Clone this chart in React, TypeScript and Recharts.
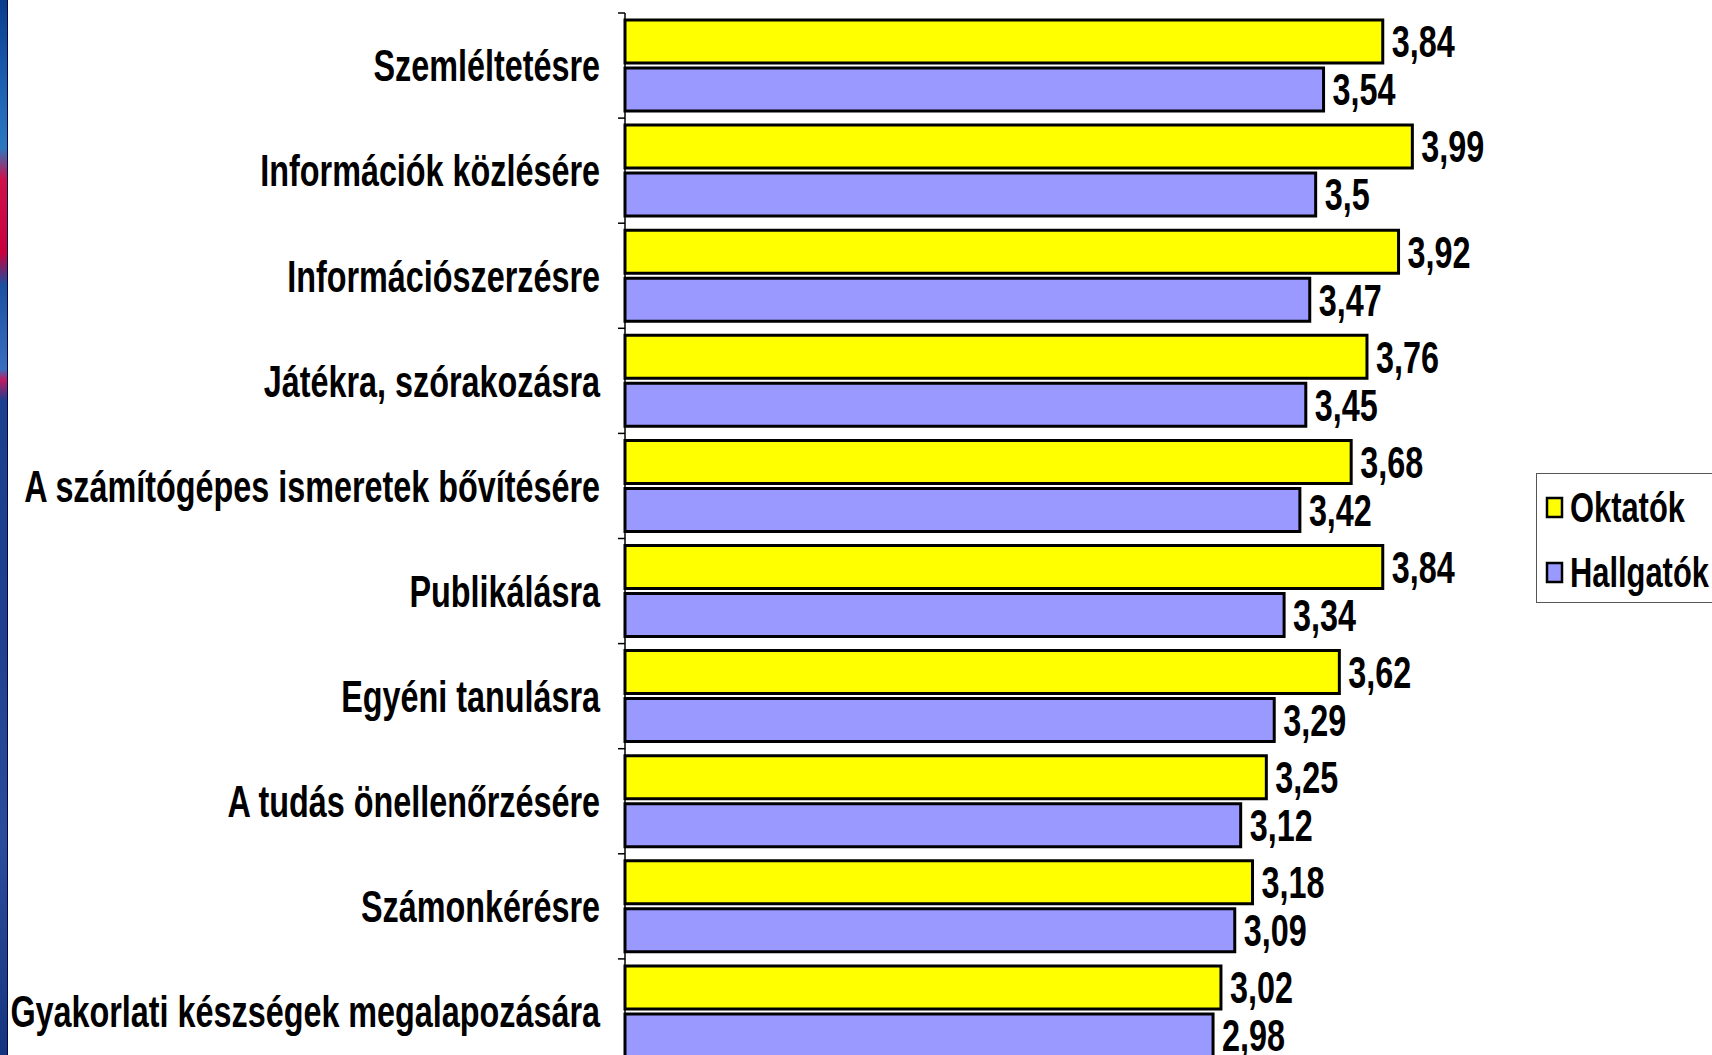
import React from 'react';
import { BarChart, Bar, XAxis, YAxis, LabelList, Legend } from 'recharts';

const categories: string[] = [
  'Szemléltetésre',
  'Információk közlésére',
  'Információszerzésre',
  'Játékra, szórakozásra',
  'A számítógépes ismeretek bővítésére',
  'Publikálásra',
  'Egyéni tanulásra',
  'A tudás önellenőrzésére',
  'Számonkérésre',
  'Gyakorlati készségek megalapozására',
];
const oktatok: number[] = [3.84, 3.99, 3.92, 3.76, 3.68, 3.84, 3.62, 3.25, 3.18, 3.02];
const hallgatok: number[] = [3.54, 3.5, 3.47, 3.45, 3.42, 3.34, 3.29, 3.12, 3.09, 2.98];
const seriesNames: string[] = ['Oktatók', 'Hallgatók'];
const seriesColors: string[] = ['#FFFF00', '#9999FF'];

const data = categories.map((c, i) => ({ name: c, oktatok: oktatok[i], hallgatok: hallgatok[i] }));

const FONT = '"Liberation Sans", Arial, sans-serif';
const SX = 0.735;

const CatTick = (props: any) => {
  const { x, y, payload } = props;
  const off = payload && typeof payload.offset === 'number' ? payload.offset : 0;
  const top = y - off;
  return (
    <g>
      <line x1={x + 18} x2={x + 25} y1={top} y2={top} stroke="#000" strokeWidth={1.5} />
      <text
        transform={`translate(${x},${y}) scale(${SX},1)`}
        textAnchor="end"
        dy="0.36em"
        fontFamily={FONT}
        fontWeight="bold"
        fontSize={44}
        fill="#000"
      >
        {payload.value}
      </text>
    </g>
  );
};

const ValueLabel = (props: any) => {
  const { x, y, width, height, value } = props;
  const tx = Number(x) + Number(width) + 9;
  const ty = Number(y) + Number(height) / 2;
  return (
    <text
      transform={`translate(${tx},${ty}) scale(${SX},1)`}
      textAnchor="start"
      dy="0.36em"
      fontFamily={FONT}
      fontWeight="bold"
      fontSize={44}
      fill="#000"
    >
      {String(value).replace('.', ',')}
    </text>
  );
};

const LegendBox = () => (
  <div
    style={{
      width: 190,
      height: 130,
      border: '1px solid #555',
      background: '#fff',
      boxSizing: 'border-box',
    }}
  >
    <svg width={190} height={128} style={{ display: 'block' }}>
      {seriesNames.map((n, i) => (
        <g key={n}>
          <rect x={10} y={24 + i * 65} width={15} height={19} fill={seriesColors[i]} stroke="#000" strokeWidth={2.5} />
          <text
            transform={`translate(${33},${33 + i * 65}) scale(${SX},1)`}
            dy="0.36em"
            fontFamily={FONT}
            fontWeight="bold"
            fontSize={42}
            fill="#000"
          >
            {n}
          </text>
        </g>
      ))}
    </svg>
  </div>
);

export default function App() {
  return (
    <div
      style={{
        position: 'absolute',
        left: 0,
        top: 0,
        width: 1712,
        height: 1055,
        overflow: 'hidden',
        background: '#fff',
      }}
    >
      <div
        style={{
          position: 'absolute',
          left: 0,
          top: 0,
          width: 7,
          height: 1055,
          background:
            'linear-gradient(to bottom, #0b3c8c 0%, #1d5fb0 8%, #2a78c0 14%, #d0104a 17%, #c8003c 24%, #1b4fa0 27%, #3a6fc0 35%, #c01a60 36%, #1b3f90 38%, #20408f 60%, #2b4c9c 80%, #163580 100%)',
          borderRight: '1px solid #000a3a',
        }}
      />
      <BarChart
        width={1712}
        height={1075}
        data={data}
        layout="vertical"
        margin={{ top: 13, right: 199, bottom: 11, left: 0 }}
        barCategoryGap={7}
        barGap={5}
      >
        <XAxis type="number" domain={[0, 4.5]} hide />
        <YAxis
          type="category"
          dataKey="name"
          width={625}
          axisLine={{ stroke: '#000', strokeWidth: 1.5 }}
          tickLine={false}
          tickSize={0}
          tickMargin={25}
          interval={0}
          tick={<CatTick />}
        />
        <Legend
          layout="horizontal"
          verticalAlign="middle"
          align="center"
          content={<LegendBox />}
          wrapperStyle={{ position: 'absolute', left: 1536, top: 473, width: 190, height: 130 }}
        />
        <Bar dataKey="oktatok" name={seriesNames[0]} fill={seriesColors[0]} stroke="#000" strokeWidth={3} isAnimationActive={false}>
          <LabelList dataKey="oktatok" content={<ValueLabel />} />
        </Bar>
        <Bar dataKey="hallgatok" name={seriesNames[1]} fill={seriesColors[1]} stroke="#000" strokeWidth={3} isAnimationActive={false}>
          <LabelList dataKey="hallgatok" content={<ValueLabel />} />
        </Bar>
      </BarChart>
    </div>
  );
}
